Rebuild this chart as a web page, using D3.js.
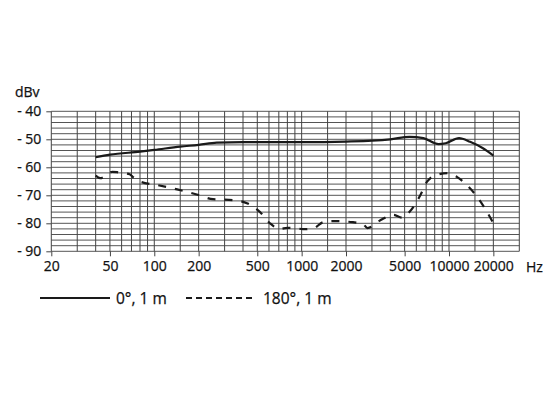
<!DOCTYPE html>
<html><head><meta charset="utf-8">
<script src="https://cdn.jsdelivr.net/npm/d3@7"></script>
<style>
html,body{margin:0;padding:0;background:#fff;}
svg text{font-family:"Open Sans","Noto Sans",sans-serif;fill:#111;stroke:#111;stroke-width:0.25px;}
</style></head>
<body>
<svg id="chart" width="550" height="400"></svg>
<script>
// ---- data ----
const freqGrid = [20,30,40,50,60,70,80,90,100,150,200,300,400,500,600,700,800,900,1000,1500,2000,3000,4000,5000,6000,7000,8000,9000,10000,15000,20000,30000];
const freqTicks = [20,50,100,200,500,1000,2000,5000,10000,20000];
const dbTicks = [-40,-50,-60,-70,-80,-90];
const dbGridStep = 2;
const seriesNames = ["0°, 1 m","180°, 1 m"];
const front = [
  [40,-56.4],[50,-55.5],[80,-54.4],[100,-53.8],[150,-52.6],[200,-52.0],[265,-51.2],
  [400,-51.0],[1000,-51.0],[2000,-50.8],[3000,-50.5],[4000,-50.0],[5400,-49.1],
  [6700,-49.6],[8500,-51.7],[9500,-51.4],[11700,-49.6],[13900,-50.9],[17000,-53.2],[20000,-55.8]
];
const rear = [
  [40,-63.0],[43,-63.9],[52,-61.6],[57,-61.8],[68,-62.5],[72,-63.6],[80,-65.1],[104,-66.3],
  [143,-67.9],[200,-69.9],[250,-71.4],[340,-71.7],[430,-72.9],[520,-75.9],[610,-80.0],
  [710,-82.0],[800,-81.6],[930,-81.8],[1020,-82.1],[1200,-81.8],[1400,-79.6],[1630,-79.2],
  [2230,-79.6],[2600,-80.2],[2800,-81.7],[3400,-79.0],[4200,-77.0],[4800,-78.0],[5400,-75.9],
  [6400,-69.9],[7100,-65.1],[8300,-62.7],[9800,-62.1],[11300,-63.4],[13200,-66.3],
  [15500,-70.5],[18100,-75.9],[20000,-80.0]
];

// ---- layout ----
const svg = d3.select("#chart");
const x = d3.scaleLog().domain([20,30000]).range([51.3,519.3]);
const y = d3.scaleLinear().domain([-40,-90]).range([111.3,251.3]);

const grid = svg.append("g");
const dbGrid = d3.range(-40,-90-0.001,-dbGridStep);
grid.selectAll("line.h").data(dbGrid).join("line")
  .attr("x1",x(20)).attr("x2",x(30000))
  .attr("y1",d=>y(d)).attr("y2",d=>y(d))
  .attr("stroke","#555").attr("stroke-width",1);
grid.selectAll("line.v").data(freqGrid).join("line")
  .attr("x1",d=>x(d)).attr("x2",d=>x(d))
  .attr("y1",y(-40)).attr("y2",y(-90))
  .attr("stroke","#444").attr("stroke-width",1);

// axes
const xAxis = d3.axisBottom(x).tickValues(freqTicks).tickFormat(d3.format("d")).tickSize(5).tickPadding(5);
const gx = svg.append("g").attr("transform",`translate(0,${y(-90)})`).call(xAxis);
gx.select(".domain").remove();
gx.selectAll(".tick line").attr("stroke","#444");
gx.selectAll(".tick text").attr("font-size",14).attr("font-family","Open Sans, Noto Sans, sans-serif").attr("fill","#111");

const yAxis = d3.axisLeft(y).tickValues(dbTicks).tickFormat(d=>"- "+Math.abs(d)).tickSize(5).tickPadding(5);
const gy = svg.append("g").attr("transform",`translate(${x(20)},0)`).call(yAxis);
gy.select(".domain").remove();
gy.selectAll(".tick line").attr("stroke","#444");
gy.selectAll(".tick text").attr("font-size",14).attr("font-family","Open Sans, Noto Sans, sans-serif").attr("fill","#111");

svg.append("text").attr("x",15).attr("y",97).attr("font-size",14).text("dBv");
svg.append("text").attr("x",526).attr("y",y(-90)+21).attr("font-size",14).text("Hz");

// curves
const line = d3.line().x(d=>x(d[0])).y(d=>y(d[1])).curve(d3.curveMonotoneX);
svg.append("path").datum(front).attr("d",line).attr("fill","none")
  .attr("stroke","#1a1a1a").attr("stroke-width",2.2);
svg.append("path").datum(rear).attr("d",line).attr("fill","none")
  .attr("stroke","#1a1a1a").attr("stroke-width",2.2).attr("stroke-dasharray","8,9");

// legend
const leg = svg.append("g");
leg.append("line").attr("x1",40).attr("x2",110).attr("y1",298).attr("y2",298)
  .attr("stroke","#1a1a1a").attr("stroke-width",2);
leg.append("text").attr("x",116).attr("y",303.5).attr("font-size",15.5).text(seriesNames[0]);
leg.append("line").attr("x1",186).attr("x2",256).attr("y1",298).attr("y2",298)
  .attr("stroke","#1a1a1a").attr("stroke-width",2).attr("stroke-dasharray","6,4");
leg.append("text").attr("x",263).attr("y",303.5).attr("font-size",15.5).text(seriesNames[1]);
</script>
</body></html>
